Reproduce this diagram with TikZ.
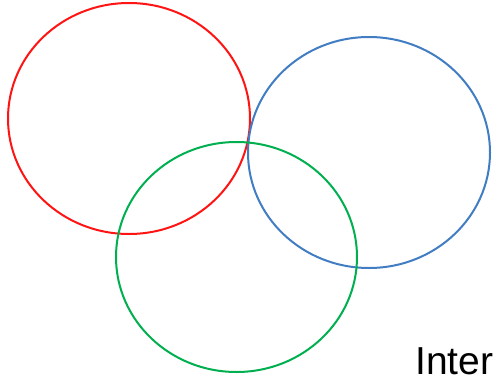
\documentclass[tikz,border=0pt]{standalone}
\usepackage{fontspec}
\setmainfont{Liberation Sans}
\usepackage{tikz}
\usetikzlibrary{positioning}
\definecolor{setred}{RGB}{255,20,20}
\definecolor{setblue}{RGB}{65,125,195}
\definecolor{setgreen}{RGB}{0,176,80}
\tikzset{
	setring/.style={line width=2pt}
}
\tikzset{
	bigtext/.style={font=\fontsize{39}{47}\selectfont, inner sep=0pt, anchor=base west}
}

\begin{document}
\begin{tikzpicture}[x=1pt, y=-1pt]
      \clip (0,0) rectangle (493,378);
      \fill[white] (0,0) rectangle (493,378);
      \draw[setring, setred] (129,118.5) ellipse (121 and 115.5);
      \draw[setring, setblue] (369,152.5) ellipse (121 and 115.5);
      \draw[setring, setgreen] (236.5,257) ellipse (120.5 and 115);
      \node[bigtext] (label) at (415,374) {Inters};
    \end{tikzpicture}
\end{document}
